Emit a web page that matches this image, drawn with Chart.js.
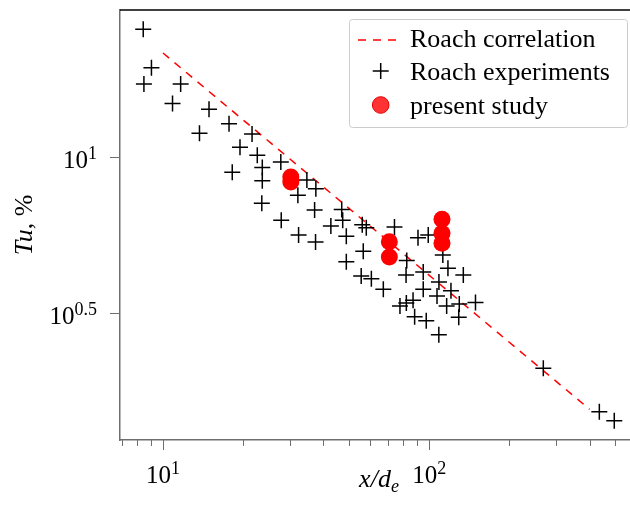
<!DOCTYPE html>
<html>
<head>
<meta charset="utf-8">
<script src="https://cdn.jsdelivr.net/npm/chart.js@4.4.1/dist/chart.umd.min.js"></script>
<style>
  html, body { margin: 0; padding: 0; background: #fff; }
  canvas { display: block; }
</style>
</head>
<body>
<canvas id="c" width="630" height="515"></canvas>
<script>
// Roach correlation (straight line on log-log axes)
const corrX = [10, 400];
const corrY = [21.5, 1.55];

// Roach experiments
const expX = [8.43, 9.05, 8.48, 11.65, 10.86, 14.89, 17.7, 13.71, 21.6, 19.46,
              22.6, 18.2, 23.6, 23.6, 27.7, 34.7, 37.5, 32.1, 23.5, 37.1,
              46.9, 27.8, 47.3, 32.3, 37.4, 42.7, 56.0, 58.0, 74.0, 48.8,
              90.7, 99.1, 56.5, 48.8, 82.3, 112.4, 117.5, 134.2, 81.8, 94.9,
              55.5, 60.6, 108.7, 67.2, 94.9, 120.6, 106.9, 86.9, 77.6, 82.0,
              149.1, 129.6, 116.2, 129.0, 88.1, 97.4, 108.6, 268, 435, 495];
const expY = [25.6, 19.3, 17.1, 17.1, 14.8, 14.2, 12.76, 11.89, 11.83, 10.72,
              10.1, 8.92, 9.24, 8.38, 9.62, 8.42, 7.90, 7.52, 7.09, 6.75,
              6.77, 6.26, 6.26, 5.61, 5.33, 6.00, 6.05, 5.92, 5.95, 5.56,
              5.50, 5.61, 4.98, 4.61, 4.65, 4.84, 4.39, 4.18, 4.18, 4.27,
              4.15, 4.06, 3.97, 3.76, 3.76, 3.72, 3.58, 3.47, 3.32, 3.40,
              3.41, 3.37, 3.32, 3.06, 3.07, 2.98, 2.69, 2.10, 1.523, 1.425];

// present study
const studyX = [30.2, 30.2, 70.8, 70.8, 111.6, 111.6, 111.6];
const studyY = [8.61, 8.30, 5.34, 4.77, 6.30, 5.68, 5.28];

// axis ticks
const xTickValues = [7, 8, 9, 10, 20, 30, 40, 50, 60, 70, 80, 90, 100, 200, 300, 400, 500];
const xLabelValues = [10, 100];
const xLabelExps = ['1', '2'];
const yTickValues = [3.1623, 10];
const yLabelValues = [3.1623, 10];
const yLabelExps = ['0.5', '1'];

const xRange = [6.896, 567.1];
const yRange = [1.236, 29.53];

const AXIS = '#6e6e6e';
const SERIF = '"Liberation Serif", "Times New Roman", serif';
const DASH = [8, 7];

function pairs(xs, ys) { return xs.map((v, i) => ({ x: v, y: ys[i] })); }

function powText(ctx, exp, x, y, align) {
  ctx.font = '25px ' + SERIF;
  const wb = ctx.measureText('10').width;
  ctx.font = '18px ' + SERIF;
  const we = ctx.measureText(exp).width;
  const total = wb + we;
  let x0 = align === 'center' ? x - total / 2 : x - total;
  ctx.textAlign = 'left';
  ctx.textBaseline = 'alphabetic';
  ctx.fillStyle = '#000';
  ctx.font = '25px ' + SERIF;
  ctx.fillText('10', x0, y);
  ctx.font = '18px ' + SERIF;
  ctx.fillText(exp, x0 + wb, y - 9);
}

const decorations = {
  id: 'decorations',
  afterDraw(chart) {
    const { ctx, chartArea: a, scales: { x, y } } = chart;
    ctx.save();

    // top frame edge
    ctx.strokeStyle = '#000';
    ctx.lineWidth = 1.5;
    ctx.beginPath();
    ctx.moveTo(a.left, a.top);
    ctx.lineTo(a.right, a.top);
    ctx.stroke();

    // tick marks
    ctx.strokeStyle = AXIS;
    ctx.lineWidth = 1;
    x.ticks.forEach(t => {
      const px = Math.round(x.getPixelForValue(t.value)) + 0.5;
      const len = t.major ? 10 : 6;
      ctx.beginPath();
      ctx.moveTo(px, a.bottom);
      ctx.lineTo(px, a.bottom + len);
      ctx.stroke();
    });
    y.ticks.forEach(t => {
      const py = Math.round(y.getPixelForValue(t.value)) + 0.5;
      ctx.beginPath();
      ctx.moveTo(a.left, py);
      ctx.lineTo(a.left - 10, py);
      ctx.stroke();
    });

    // tick labels
    xLabelValues.forEach((v, i) => {
      powText(ctx, xLabelExps[i], x.getPixelForValue(v), a.bottom + 43, 'center');
    });
    yLabelValues.forEach((v, i) => {
      powText(ctx, yLabelExps[i], a.left - 23, y.getPixelForValue(v) + 11.5, 'right');
    });

    // x axis title: x/d_e
    ctx.fillStyle = '#000';
    ctx.textAlign = 'left';
    ctx.textBaseline = 'alphabetic';
    ctx.font = 'italic 26px ' + SERIF;
    const w1 = ctx.measureText('x/d').width;
    ctx.font = 'italic 18px ' + SERIF;
    const w2 = ctx.measureText('e').width;
    const xs = (a.left + a.right) / 2 + 4 - (w1 + w2) / 2;
    ctx.font = 'italic 26px ' + SERIF;
    ctx.fillText('x/d', xs, 487);
    ctx.font = 'italic 18px ' + SERIF;
    ctx.fillText('e', xs + w1, 492);

    // y axis title: Tu, %
    ctx.save();
    ctx.translate(32, (a.top + a.bottom) / 2);
    ctx.rotate(-Math.PI / 2);
    ctx.font = 'italic 26px ' + SERIF;
    const t1 = ctx.measureText('Tu').width;
    ctx.font = '26px ' + SERIF;
    const t2 = ctx.measureText(', %').width;
    const ts = -(t1 + t2) / 2;
    ctx.font = 'italic 26px ' + SERIF;
    ctx.fillText('Tu', ts, 0);
    ctx.font = '26px ' + SERIF;
    ctx.fillText(', %', ts + t1, 0);
    ctx.restore();

    // legend
    const ds = chart.data.datasets;
    const bx = 349.5, by = 19.5, bw = 278, bh = 108;
    ctx.fillStyle = 'rgba(255,255,255,0.9)';
    ctx.strokeStyle = '#cccccc';
    ctx.lineWidth = 1;
    ctx.beginPath();
    ctx.roundRect(bx, by, bw, bh, 3);
    ctx.fill();
    ctx.stroke();

    const mx = 380.7;
    const rows = [40, 71, 105];
    // dashed line sample
    ctx.strokeStyle = ds[0].borderColor;
    ctx.lineWidth = ds[0].borderWidth;
    ctx.setLineDash(DASH);
    ctx.beginPath();
    ctx.moveTo(358, rows[0]);
    ctx.lineTo(398, rows[0]);
    ctx.stroke();
    ctx.setLineDash([]);
    // cross sample
    ctx.strokeStyle = ds[1].borderColor;
    ctx.lineWidth = ds[1].borderWidth;
    ctx.beginPath();
    ctx.moveTo(mx - 8, rows[1]); ctx.lineTo(mx + 8, rows[1]);
    ctx.moveTo(mx, rows[1] - 8); ctx.lineTo(mx, rows[1] + 8);
    ctx.stroke();
    // circle sample
    ctx.fillStyle = 'rgba(255,0,0,0.8)';
    ctx.strokeStyle = '#e00000';
    ctx.lineWidth = 1;
    ctx.beginPath();
    ctx.arc(mx, rows[2], 8.3, 0, Math.PI * 2);
    ctx.fill();
    ctx.stroke();

    ctx.fillStyle = '#000';
    ctx.font = '26px ' + SERIF;
    ctx.textAlign = 'left';
    ctx.textBaseline = 'alphabetic';
    const baselines = [47, 80, 113.5];
    ds.forEach((d, i) => ctx.fillText(d.label, 410, baselines[i]));

    ctx.restore();
  }
};

new Chart(document.getElementById('c'), {
  type: 'scatter',
  data: {
    datasets: [
      {
        type: 'line',
        label: 'Roach correlation',
        data: pairs(corrX, corrY),
        borderColor: '#ff0000',
        borderWidth: 1.5,
        borderDash: DASH,
        pointRadius: 0,
        fill: false,
        tension: 0,
        order: 2
      },
      {
        label: 'Roach experiments',
        data: pairs(expX, expY),
        pointStyle: 'cross',
        pointRadius: 8,
        borderColor: '#000000',
        borderWidth: 1.5,
        backgroundColor: '#000000',
        order: 1
      },
      {
        label: 'present study',
        data: pairs(studyX, studyY),
        pointStyle: 'circle',
        pointRadius: 8.5,
        backgroundColor: '#ff0000',
        borderColor: '#ff0000',
        borderWidth: 0,
        order: 0
      }
    ]
  },
  options: {
    responsive: false,
    animation: false,
    devicePixelRatio: 1,
    layout: { autoPadding: false, padding: { left: 120, top: 10, right: 0, bottom: 75 } },
    plugins: {
      legend: { display: false },
      tooltip: { enabled: false }
    },
    scales: {
      x: {
        type: 'logarithmic',
        position: 'bottom',
        min: xRange[0],
        max: xRange[1],
        bounds: 'data',
        afterBuildTicks: s => {
          s.ticks = xTickValues.map(v => ({ value: v, major: xLabelValues.includes(v) }));
        },
        ticks: { display: false },
        grid: { display: true, drawOnChartArea: false, drawTicks: false },
        border: { display: true, color: AXIS, width: 1.5 }
      },
      y: {
        type: 'logarithmic',
        position: 'left',
        min: yRange[0],
        max: yRange[1],
        bounds: 'data',
        afterBuildTicks: s => {
          s.ticks = yTickValues.map(v => ({ value: v, major: true }));
        },
        ticks: { display: false },
        grid: { display: true, drawOnChartArea: false, drawTicks: false },
        border: { display: true, color: AXIS, width: 1.5 }
      }
    }
  },
  plugins: [decorations]
});
</script>
</body>
</html>
